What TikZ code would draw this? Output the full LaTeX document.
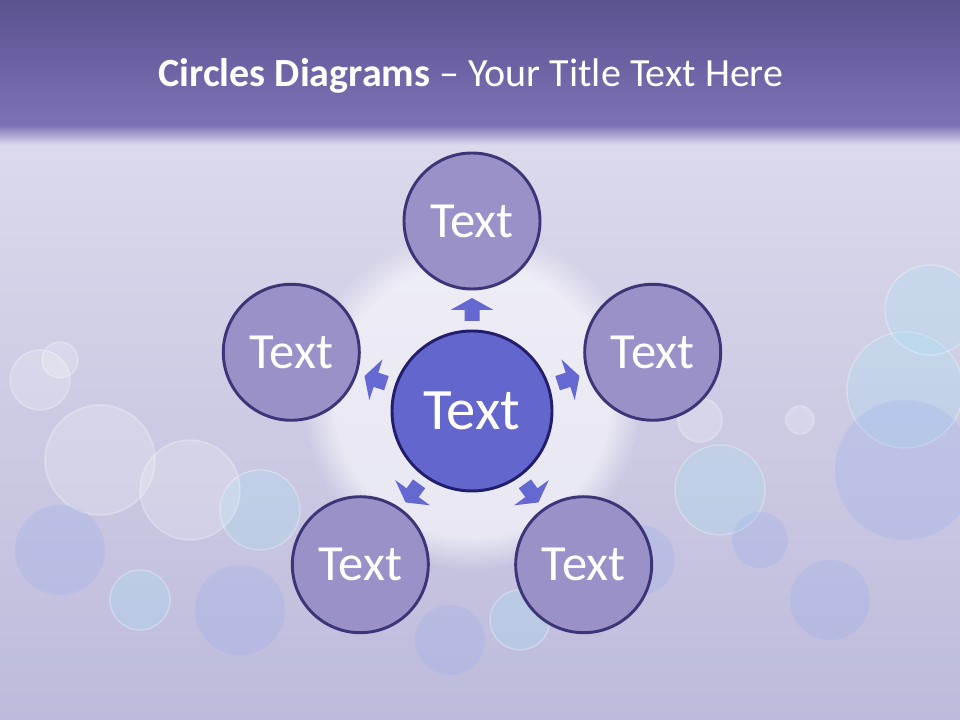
\documentclass[tikz,border=0pt]{standalone}
\usepackage{fontspec}
\setmainfont{Carlito}
\usetikzlibrary{calc,fadings}
\definecolor{bandtop}{HTML}{5B5290}
\definecolor{bandbot}{HTML}{7D72B6}
\definecolor{bgtop}{HTML}{DCDAEC}
\definecolor{bgmid}{HTML}{CBCCE6}
\definecolor{bgbot}{HTML}{BDBBDB}
\definecolor{outerfill}{HTML}{9A91C8}
\definecolor{outerline}{HTML}{3C3577}
\definecolor{centerfill}{HTML}{6366CC}
\definecolor{centerline}{HTML}{231E6C}
\definecolor{arrowfill}{HTML}{6468D0}
\definecolor{bokehA}{HTML}{A8E4F4}
\definecolor{bokehB}{HTML}{8FA8F0}
\begin{document}
\begin{tikzpicture}[x=0.75pt,y=0.75pt,
  outer/.style={circle,draw=outerline,line width=2.2pt,fill=outerfill,minimum size=102pt,inner sep=0pt,text=white,font=\fontsize{38}{44}\selectfont},
  centre/.style={circle,draw=centerline,line width=2.2pt,fill=centerfill,minimum size=120pt,inner sep=0pt,text=white,font=\fontsize{44}{50}\selectfont},
  blockarrow/.style={fill=arrowfill,draw=none},
  bokeh/.style={fill=white,fill opacity=0.2,draw=white,draw opacity=0.3,line width=1pt},
  bokehc/.style={fill=bokehA,fill opacity=0.28,draw=white,draw opacity=0.3,line width=1pt},
  bokehb/.style={fill=bokehB,fill opacity=0.22,draw=none}]
\useasboundingbox (0,0) rectangle (960,720);
% background
\shade[top color=bgtop,middle color=bgmid,bottom color=bgbot] (0,0) rectangle (960,590);
\shade[top color=bandbot,bottom color=bgtop] (0,575) rectangle (960,595);
\shade[top color=bandtop,bottom color=bandbot] (0,595) rectangle (960,720);
% soft glow behind the centre
\fill[white,path fading=circle with fuzzy edge 20 percent,opacity=0.6] (472,320) circle[radius=170];
% bokeh
\path[bokehc] (905,330) circle[radius=58];
\path[bokehb] (905,250) circle[radius=70];
\path[bokehc] (930,410) circle[radius=45];
\path[bokeh] (800,300) circle[radius=14];
\path[bokehb] (830,120) circle[radius=40];
\path[bokehc] (720,230) circle[radius=45];
\path[bokehb] (640,160) circle[radius=35];
\path[bokeh] (100,260) circle[radius=55];
\path[bokehb] (60,170) circle[radius=45];
\path[bokehc] (260,210) circle[radius=40];
\path[bokeh] (190,230) circle[radius=50];
\path[bokehb] (240,110) circle[radius=45];
\path[bokeh] (40,340) circle[radius=30];
\path[bokehc] (520,100) circle[radius=30];
\path[bokehb] (450,80) circle[radius=35];
\path[bokeh] (700,300) circle[radius=22];
\path[bokeh] (60,360) circle[radius=18];
\path[bokehb] (760,180) circle[radius=28];
\path[bokehc] (140,120) circle[radius=30];
% title
\node[text=white,font=\fontsize{30}{34}\selectfont] (title) at (471,644) {\textbf{Circles Diagrams} – Your Title Text Here};
% circles
\node[centre] (c) at (472,309) {Text};
\node[outer] (o1) at ($(c)+(90:190)$) {Text};
\node[outer] (o2) at ($(c)+(18:190)$) {Text};
\node[outer] (o3) at ($(c)+(-54:190)$) {Text};
\node[outer] (o4) at ($(c)+(-126:190)$) {Text};
\node[outer] (o5) at ($(c)+(162:190)$) {Text};
% block arrows from centre to outer circles
\foreach \o/\a in {o1/90,o2/18,o3/-54,o4/-126,o5/162}{
  \begin{scope}[shift={($(c)!90/190!(\o)$)},rotate=\a]
    \path[blockarrow] (0,7.5) -- (11,7.5) -- (11,21.5) -- (23,0) -- (11,-21.5) -- (11,-7.5) -- (0,-7.5) -- cycle;
  \end{scope}
}
\end{tikzpicture}
\end{document}
